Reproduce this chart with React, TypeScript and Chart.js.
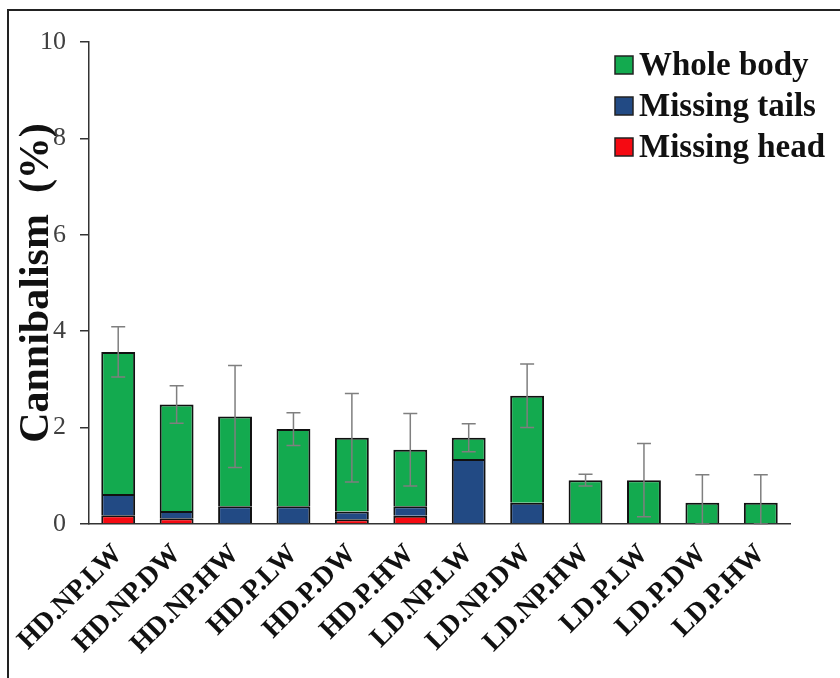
import React, { useEffect, useRef } from "react";
import { Chart, registerables } from "chart.js";

Chart.register(...registerables);

const categories = [
  "HD.NP.LW", "HD.NP.DW", "HD.NP.HW", "HD.P.LW", "HD.P.DW", "HD.P.HW",
  "LD.NP.LW", "LD.NP.DW", "LD.NP.HW", "LD.P.LW", "LD.P.DW", "LD.P.HW",
];
const missingHead = [0.18, 0.12, 0, 0, 0.10, 0.17, 0, 0, 0, 0, 0, 0];
const missingTails = [0.44, 0.15, 0.37, 0.37, 0.16, 0.20, 1.35, 0.44, 0, 0, 0, 0];
const wholeBody = [2.95, 2.21, 1.86, 1.60, 1.53, 1.17, 0.44, 2.22, 0.91, 0.91, 0.44, 0.44];
const errors = [0.52, 0.39, 1.06, 0.34, 0.92, 0.75, 0.29, 0.66, 0.12, 0.76, 0.58, 0.58];
const yTicks = [0, 2, 4, 6, 8, 10];
const seriesNames = ["Missing head", "Missing tails", "Whole body"];
const yTitle = "Cannibalism  (%)";

const SERIF = "'Liberation Serif', 'Times New Roman', serif";

const errorBarPlugin = {
  id: "errorBars",
  afterDatasetsDraw(chart: any) {
    const { ctx } = chart;
    const x = chart.scales.x;
    const y = chart.scales.y;
    ctx.save();
    ctx.strokeStyle = "#7f7f7f";
    ctx.lineWidth = 1.5;
    categories.forEach((_, i) => {
      const total = missingHead[i] + missingTails[i] + wholeBody[i];
      const px = x.getPixelForValue(i);
      const top = y.getPixelForValue(total + errors[i]);
      const bot = y.getPixelForValue(Math.max(0, total - errors[i]));
      const cap = 7;
      ctx.beginPath();
      ctx.moveTo(px, top);
      ctx.lineTo(px, bot);
      ctx.moveTo(px - cap, top);
      ctx.lineTo(px + cap, top);
      ctx.moveTo(px - cap, bot);
      ctx.lineTo(px + cap, bot);
      ctx.stroke();
    });
    ctx.restore();
  },
};

const legendPlugin = {
  id: "customLegend",
  afterDraw(chart: any) {
    const { ctx, chartArea } = chart;
    const ds = chart.data.datasets;
    const boxX = chartArea.right - 175;
    let rowY = chartArea.top + 23;
    ctx.save();
    ctx.font = `bold 33px ${SERIF}`;
    ctx.textBaseline = "middle";
    ctx.textAlign = "left";
    for (let k = ds.length - 1; k >= 0; k--) {
      const d = ds[k];
      ctx.fillStyle = d.backgroundColor;
      ctx.fillRect(boxX, rowY - 9, 18, 18);
      ctx.strokeStyle = "#222";
      ctx.lineWidth = 1.5;
      ctx.strokeRect(boxX, rowY - 9, 18, 18);
      ctx.fillStyle = "#111";
      ctx.fillText(d.label, boxX + 24, rowY + 1);
      rowY += 41;
    }
    ctx.restore();
  },
};

export default function App() {
  const ref = useRef<HTMLCanvasElement | null>(null);

  useEffect(() => {
    if (!ref.current) return;
    const border = { top: 2, left: 2, right: 2, bottom: 0 };
    const common = {
      borderColor: "#111",
      borderWidth: border,
      borderSkipped: false,
      barPercentage: 0.58,
      categoryPercentage: 1.0,
    };
    const chart = new Chart(ref.current, {
      type: "bar",
      data: {
        labels: categories,
        datasets: [
          { label: seriesNames[0], data: missingHead, backgroundColor: "#f50a12", ...common },
          { label: seriesNames[1], data: missingTails, backgroundColor: "#224a84", ...common },
          { label: seriesNames[2], data: wholeBody, backgroundColor: "#13aa4f", ...common },
        ],
      },
      options: {
        animation: false,
        responsive: false,
        maintainAspectRatio: false,
        layout: { padding: { left: 0, top: 42, right: 50, bottom: 0 } },
        plugins: {
          legend: { display: false },
          tooltip: { enabled: false },
          title: { display: false },
        },
        scales: {
          x: {
            stacked: true,
            grid: { display: false, drawTicks: false },
            border: { display: true, color: "#333", width: 1.5 },
            ticks: {
              maxRotation: 45,
              minRotation: 45,
              autoSkip: false,
              padding: 14,
              color: "#111",
              font: { family: SERIF, size: 28, weight: "bold" },
            },
            afterFit: (s: any) => {
              s.height = 678 - 524;
            },
          },
          y: {
            stacked: true,
            min: 0,
            max: 10,
            afterBuildTicks: (s: any) => {
              s.ticks = yTicks.map((v) => ({ value: v }));
            },
            grid: {
              display: true,
              drawOnChartArea: false,
              drawTicks: true,
              tickLength: 9,
              color: "#333",
              lineWidth: 1.5,
            },
            border: { display: true, color: "#333", width: 1.5 },
            ticks: {
              padding: 14,
              color: "#404040",
              font: { family: SERIF, size: 26 },
            },
            title: {
              display: true,
              text: yTitle,
              color: "#111",
              padding: { top: 12, bottom: 0 },
              font: { family: SERIF, size: 42, weight: "bold" },
            },
            afterFit: (s: any) => {
              s.width = 89;
            },
          },
        },
      },
      plugins: [errorBarPlugin, legendPlugin],
    } as any);
    return () => chart.destroy();
  }, []);

  return (
    <div
      style={{
        position: "fixed",
        left: 0,
        top: 0,
        width: 840,
        height: 678,
        overflow: "hidden",
        background: "#fff",
      }}
    >
      <div
        style={{
          position: "absolute",
          left: 7,
          top: 9,
          width: 900,
          height: 720,
          borderLeft: "2px solid #222",
          borderTop: "2px solid #222",
        }}
      />
      <canvas
        ref={ref}
        width={840}
        height={678}
        style={{ position: "absolute", left: 0, top: 0, width: 840, height: 678 }}
      />
    </div>
  );
}
